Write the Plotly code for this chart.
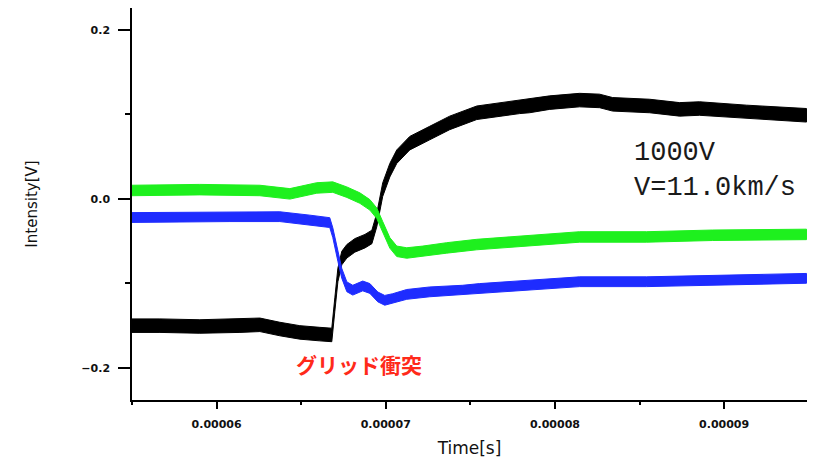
import plotly.graph_objects as go

# Time stamps in microseconds and signal levels in volts for each channel
t_black_us = [55.00, 56.65, 59.01, 61.38, 62.56, 63.74, 64.92, 66.10, 66.81, 66.99,
              67.17, 67.40, 67.70, 68.17, 68.77, 69.18, 69.47, 69.82, 70.24, 70.65,
              71.42, 72.60, 73.78, 75.38, 77.91, 78.50, 79.69, 81.46, 82.64, 83.41,
              85.60, 87.37, 88.55, 91.33, 94.87]
black_v = [-0.150, -0.150, -0.151, -0.150, -0.149, -0.154, -0.158, -0.160, -0.161, -0.125,
           -0.090, -0.070, -0.062, -0.055, -0.050, -0.045, -0.025, 0.011, 0.034, 0.050,
           0.066, 0.078, 0.090, 0.102, 0.109, 0.110, 0.114, 0.117, 0.116, 0.112,
           0.110, 0.106, 0.107, 0.103, 0.099]

t_green_us = [55.00, 59.01, 62.56, 64.33, 65.92, 66.87, 67.70, 68.47, 69.06, 69.47,
              69.82, 70.24, 70.65, 71.24, 72.19, 73.60, 75.38, 78.50, 81.46, 85.42,
              89.32, 94.87]
green_v = [0.010, 0.011, 0.010, 0.006, 0.013, 0.014, 0.008, 0.001, -0.007, -0.017,
           -0.033, -0.052, -0.062, -0.064, -0.062, -0.058, -0.054, -0.049, -0.045, -0.045,
           -0.043, -0.042]

t_blue_us = [55.00, 60.79, 63.74, 65.51, 66.69, 66.87, 67.17, 67.40, 67.70, 68.05,
             68.64, 69.06, 69.53, 69.94, 70.41, 71.24, 72.60, 74.55, 75.55, 78.50,
             81.46, 85.42, 89.32, 94.87]
blue_v = [-0.022, -0.021, -0.021, -0.025, -0.028, -0.040, -0.068, -0.088, -0.104, -0.108,
          -0.103, -0.106, -0.116, -0.120, -0.118, -0.113, -0.110, -0.108, -0.106, -0.102,
          -0.098, -0.098, -0.096, -0.094]

# Approximate noise half-amplitude of each channel (V)
noise_black = 0.0080
noise_green = 0.0062
noise_blue = 0.0058

x_ticks = [6e-5, 7e-5, 8e-5, 9e-5]
y_ticks = [-0.2, 0.0, 0.2]


def band(t_us, v, hw, color, name):
    t = [u * 1e-6 for u in t_us]
    upper = [a + hw for a in v]
    lower = [a - hw for a in v]
    return go.Scatter(
        x=t + t[::-1],
        y=upper + lower[::-1],
        mode="lines",
        fill="toself",
        fillcolor=color,
        line=dict(color=color, width=1),
        name=name,
        showlegend=False,
        hoverinfo="skip",
    )


fig = go.Figure()
fig.add_trace(band(t_black_us, black_v, noise_black, "#000000", "black"))
fig.add_trace(band(t_green_us, green_v, noise_green, "#1ef01e", "green"))
fig.add_trace(band(t_blue_us, blue_v, noise_blue, "#1e2cff", "blue"))

tick_font = dict(family="DejaVu Sans", size=11, color="#111111", weight="bold")

fig.update_layout(
    width=832,
    height=460,
    margin=dict(l=132, r=25, t=8, b=60),
    paper_bgcolor="white",
    plot_bgcolor="white",
    showlegend=False,
    xaxis=dict(
        range=[5.50e-5, 9.49e-5],
        tickvals=x_ticks,
        tickformat=".5f",
        ticks="outside",
        ticklen=7,
        tickwidth=1.5,
        tickcolor="black",
        minor=dict(dtick=5e-6, tick0=6e-5, ticks="outside", ticklen=3,
                   tickwidth=1.5, tickcolor="black"),
        showline=True,
        linecolor="black",
        linewidth=1.5,
        showgrid=False,
        zeroline=False,
        automargin=False,
        tickfont=tick_font,
        ticklabelstandoff=6,
        title=dict(text="Time[s]", font=dict(family="DejaVu Sans", size=17, color="#111111"),
                   standoff=12),
    ),
    yaxis=dict(
        range=[-0.238, 0.226],
        tickvals=y_ticks,
        tickformat=".1f",
        ticks="outside",
        ticklen=12,
        tickwidth=1.5,
        tickcolor="black",
        minor=dict(dtick=0.1, tick0=0, ticks="outside", ticklen=5,
                   tickwidth=1.5, tickcolor="black"),
        showline=True,
        linecolor="black",
        linewidth=1.5,
        showgrid=False,
        zeroline=False,
        automargin=False,
        tickfont=tick_font,
        ticklabelstandoff=6,
        title=dict(text="Intensity[V]", font=dict(family="DejaVu Sans", size=15, color="#111111"),
                   standoff=40),
    ),
)

fig.add_annotation(x=8.453e-5, y=0.034, xref="x", yref="y",
                   text="1000V<br>V=11.0km/s",
                   showarrow=False, xanchor="left", yanchor="middle", align="left",
                   font=dict(family="Liberation Mono", size=27, color="#1a1a1a"))
fig.add_annotation(x=6.841e-5, y=-0.195, xref="x", yref="y", text="グリッド衝突",
                   showarrow=False, xanchor="center", yanchor="middle",
                   font=dict(family="Noto Sans CJK JP", size=21, color="#ff2a1a", weight="bold"))

fig.write_html("out.html")
